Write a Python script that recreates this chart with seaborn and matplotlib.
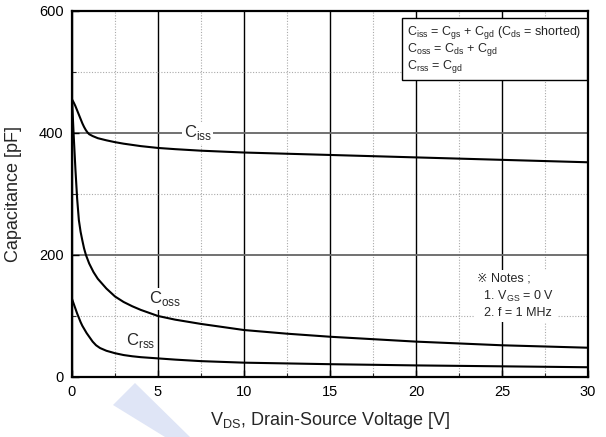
import numpy as np
import pandas as pd
import matplotlib
matplotlib.use("Agg")
import matplotlib.pyplot as plt
import seaborn as sns
from matplotlib.ticker import MultipleLocator
from matplotlib.patches import Polygon

# ---- data ----
ciss_v = [0, 0.1, 0.2, 0.3, 0.4, 0.5, 0.6, 0.7, 0.8, 0.9, 1.0, 1.2, 1.5, 2.0, 2.5, 3.0, 4.0, 5.0,
          6.0, 7.5, 10, 12.5, 15, 17.5, 20, 22.5, 25, 27.5, 30]
ciss_c = [455, 450, 444, 437, 430, 423, 416, 410, 405, 401, 398, 395, 391.5, 388, 385, 382.5, 378.5, 375.5,
          373.5, 371, 368, 366, 364, 362, 360, 358, 356, 354, 352]

coss_v = [0, 0.05, 0.1, 0.2, 0.3, 0.4, 0.5, 0.6, 0.7, 0.81, 1.0, 1.25, 1.5, 2.0, 2.5, 3.0, 3.5, 4.0,
          5.0, 6.0, 7.5, 10, 12.5, 15, 17.5, 20, 25, 30]
coss_c = [455, 425, 395, 340, 292, 257, 238, 224, 211, 200, 186, 172, 161, 145, 132, 123, 116, 110,
          100, 94, 87, 77, 71, 66, 62, 58, 52, 48]

crss_v = [0, 0.1, 0.2, 0.3, 0.4, 0.5, 0.6, 0.85, 1.0, 1.2, 1.4, 1.63, 2.0, 2.5, 3.0, 3.5, 4.0, 5.0,
          6.0, 7.5, 10, 15, 20, 25, 30]
crss_c = [128, 120, 112, 104, 97, 90, 84, 72, 66, 58, 52, 47.5, 43, 39, 36, 34, 32.5, 30.5,
          28.5, 26, 23.5, 21, 19, 17.5, 16]

x_ticks = [0, 5, 10, 15, 20, 25, 30]
y_ticks = [0, 200, 400, 600]

df = pd.concat([
    pd.DataFrame({"V": ciss_v, "C": ciss_c, "s": "Ciss"}),
    pd.DataFrame({"V": coss_v, "C": coss_c, "s": "Coss"}),
    pd.DataFrame({"V": crss_v, "C": crss_c, "s": "Crss"}),
])

sns.set_style("ticks")
plt.rcParams["font.family"] = ["Liberation Sans", "DejaVu Sans"]
plt.rcParams["mathtext.fontset"] = "custom"
plt.rcParams["mathtext.rm"] = "Liberation Sans"

fig = plt.figure(figsize=(6.06, 4.37), dpi=100)
ax = fig.add_axes([72/606, 1-377/437, (588-72)/606, (377-11)/437])

# grid
ax.set_xlim(0, 30)
ax.set_ylim(0, 600)
ax.xaxis.set_major_locator(MultipleLocator(5))
ax.xaxis.set_minor_locator(MultipleLocator(2.5))
ax.yaxis.set_major_locator(MultipleLocator(200))
ax.yaxis.set_minor_locator(MultipleLocator(100))
ax.grid(which="major", axis="x", color="black", lw=1.0, ls="-")
ax.grid(which="major", axis="y", color="#666666", lw=1.3, ls="-")
ax.grid(which="minor", axis="both", color="#aaaaaa", lw=0.8, ls=(0, (1, 1.5)))
ax.set_axisbelow(True)

sns.lineplot(data=df, x="V", y="C", hue="s", palette=["black"]*3, lw=1.5,
             legend=False, ax=ax, estimator=None, sort=False, zorder=3)

ax.set_xticks(x_ticks)
ax.set_yticks(y_ticks)
ax.tick_params(which="major", direction="in", length=5, width=1, labelsize=10.5, pad=6, colors="black")
ax.tick_params(which="minor", direction="in", length=3, width=0.8)
for sp in ax.spines.values():
    sp.set_color("black")
    sp.set_linewidth(1.6)
    sp.set_zorder(5)

ax.set_xlabel(r"V$_{\mathregular{DS}}$, Drain-Source Voltage [V]", fontsize=13, labelpad=8)
ax.set_ylabel("Capacitance [pF]", fontsize=13, labelpad=12)

box = dict(facecolor="white", edgecolor="none", pad=1)
ax.text(7.3, 400, r"C$_{\mathregular{iss}}$", fontsize=12, ha="center", va="center", bbox=box, zorder=4)
ax.text(5.4, 128, r"C$_{\mathregular{oss}}$", fontsize=12, ha="center", va="center", bbox=box, zorder=4)
ax.text(4.0, 60, r"C$_{\mathregular{rss}}$", fontsize=12, ha="center", va="center", bbox=box, zorder=4)

legend_txt = ("C$_{\\mathregular{iss}}$ = C$_{\\mathregular{gs}}$ + C$_{\\mathregular{gd}}$ (C$_{\\mathregular{ds}}$ = shorted)\n"
              "C$_{\\mathregular{oss}}$ = C$_{\\mathregular{ds}}$ + C$_{\\mathregular{gd}}$\n"
              "C$_{\\mathregular{rss}}$ = C$_{\\mathregular{gd}}$")
ax.text(0.650, 0.965, legend_txt, transform=ax.transAxes, fontsize=9, ha="left", va="top",
        linespacing=1.0,
        bbox=dict(facecolor="white", edgecolor="black", lw=1.0, boxstyle="square,pad=0.45"), zorder=6)

notes = "\u203b Notes ;\n  1. V$_{\\mathregular{GS}}$ = 0 V\n  2. f = 1 MHz"
ax.text(0.785, 0.222, notes, transform=ax.transAxes, fontsize=9, ha="left", va="center",
        linespacing=1.35, family=["Liberation Sans", "DejaVu Sans", "Noto Sans CJK JP"],
        bbox=dict(facecolor="white", edgecolor="none", pad=2), zorder=6)

# faint watermark stroke at bottom
W, H = 606, 437
pts = [(135, 383), (190, 437), (165, 437), (113, 405)]
fig.patches.append(Polygon([(x/W, 1-y/H) for x, y in pts], closed=True,
                           transform=fig.transFigure, facecolor="#dfe5f6", edgecolor="none", zorder=0))

fig.savefig("out.png", dpi=100)
